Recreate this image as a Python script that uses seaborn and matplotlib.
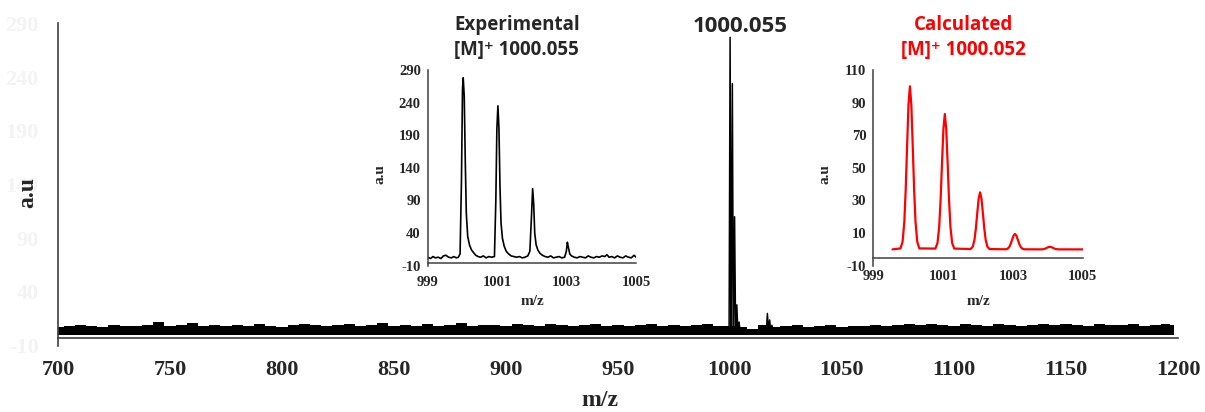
import numpy as np
import pandas as pd
import matplotlib
matplotlib.use("Agg")
import matplotlib.pyplot as plt
import seaborn as sns

# ---- main spectrum (700-1200) ----
# upper edge of the baseline noise band, every 5 m/z from 700 (last point 1198)
noise_mz = list(range(700, 1200, 5)) + [1198]
noise_top = [7, 8, 9, 8, 7, 9, 8, 8, 9, 12, 8, 9, 11, 8, 9, 8, 9, 8, 10, 8,
             7, 9, 10, 9, 8, 9, 10, 8, 9, 11, 8, 9, 8, 10, 8, 9, 11, 8, 9, 9,
             8, 10, 9, 8, 10, 9, 8, 9, 10, 8, 9, 8, 9, 10, 8, 9, 8, 9, 10, 8,
             8, 7, 6, 9, 7, 8, 9, 7, 8, 9, 7, 8, 8, 9, 8, 9, 10, 9, 10, 9,
             8, 10, 9, 8, 10, 9, 8, 9, 10, 9, 10, 9, 8, 10, 9, 9, 10, 8, 9, 10, 9]
noise_floor = 0

peak_mz = [1000.05, 1001.05, 1002.05, 1003.05, 1004.05, 1016.7, 1017.7, 1018.7]
peak_ai = [277, 234, 110, 28, 12, 20, 14, 9]
main_label = "1000.055"

# ---- experimental isotope pattern (inset, left) ----
exp_mz = [999.00, 999.08, 999.15, 999.22, 999.30, 999.38, 999.45, 999.52, 999.60, 999.68,
          999.75, 999.82, 999.88, 999.93, 999.97, 1000.00, 1000.02, 1000.05, 1000.08, 1000.11,
          1000.15, 1000.20, 1000.26, 1000.32, 1000.38, 1000.45, 1000.52, 1000.60, 1000.68, 1000.76,
          1000.84, 1000.92, 1000.96, 1000.99, 1001.02, 1001.05, 1001.08, 1001.11, 1001.15, 1001.20,
          1001.26, 1001.33, 1001.40, 1001.48, 1001.56, 1001.64, 1001.72, 1001.80, 1001.88, 1001.94,
          1001.99, 1002.02, 1002.05, 1002.08, 1002.12, 1002.17, 1002.23, 1002.30, 1002.38, 1002.46,
          1002.54, 1002.62, 1002.70, 1002.78, 1002.86, 1002.94, 1002.99, 1003.02, 1003.05, 1003.09,
          1003.14, 1003.22, 1003.30, 1003.38, 1003.46, 1003.54, 1003.62, 1003.70, 1003.78, 1003.86,
          1003.94, 1004.02, 1004.10, 1004.16, 1004.22, 1004.30, 1004.38, 1004.46, 1004.54, 1004.62,
          1004.70, 1004.78, 1004.86, 1004.94, 1005.00]
exp_ai = [3, 1, 4, 2, 3, 1, 5, 6, 3, 2,
          4, 2, 3, 8, 120, 260, 278, 250, 150, 70,
          35, 22, 14, 10, 6, 4, 3, 5, 2, 4,
          3, 4, 90, 200, 235, 200, 110, 55, 32, 20,
          12, 8, 5, 4, 3, 4, 2, 3, 5, 12,
          70, 108, 85, 40, 22, 14, 9, 6, 4, 3,
          5, 2, 3, 4, 2, 3, 12, 26, 18, 8,
          5, 3, 2, 4, 3, 2, 5, 3, 2, 4,
          3, 5, 4, 7, 3, 4, 2, 5, 3, 2,
          5, 3, 2, 6, 3]

# ---- calculated isotope pattern (inset, right) ----
calc_centers = [1000.05, 1001.05, 1002.06, 1003.06, 1004.06]
calc_heights = [100, 83, 35, 9.5, 1.6]
# profile of one isotope peak read from the first peak (offset, fraction of height)
shape_dx = [-0.27, -0.21, -0.16, -0.12, -0.08, -0.04, 0, 0.04, 0.08, 0.12, 0.16, 0.21, 0.27]
shape_rel = [0.006, 0.047, 0.17, 0.37, 0.64, 0.89, 1.0, 0.89, 0.64, 0.37, 0.17, 0.047, 0.006]
calc_start, calc_end = 999.55, 1005.0

# build tables for the library
spike_x, spike_y = [], []
for mz, h in zip(peak_mz, peak_ai):
    spike_x += [mz - 0.45, mz, mz + 0.45]
    spike_y += [4, h, 4]
spikes = pd.DataFrame({"mz": spike_x, "ai": spike_y})

exp_df = pd.DataFrame({"mz": exp_mz, "ai": exp_ai})

cx, cy = [calc_start], [0]
for c, h in zip(calc_centers, calc_heights):
    cx += [c + d for d in shape_dx]
    cy += [h * r for r in shape_rel]
cx.append(calc_end)
cy.append(0)
calc_df = pd.DataFrame({"mz": cx, "ai": cy})

sns.set_theme(style="white")
plt.rcParams["font.family"] = ["Liberation Serif", "DejaVu Serif"]
plt.rcParams["font.weight"] = "bold"
plt.rcParams["axes.unicode_minus"] = False

SERIF = ["Liberation Serif", "DejaVu Serif"]
SANS = ["Open Sans", "DejaVu Sans"]
SPINE = "#404040"

fig = plt.figure(figsize=(12.05, 4.12), dpi=100)

# ---- main axes ----
ax = fig.add_axes([0.0481, 0.1609, 0.9295, 0.7825])
ax.fill_between(noise_mz, noise_floor, noise_top, step="mid", color="black", lw=0)
sns.lineplot(data=spikes, x="mz", y="ai", ax=ax, color="black", lw=1.1,
             sort=False, estimator=None)
ax.set_xlim(700, 1200)
ax.set_ylim(-10, 290)
ax.set_xticks(range(700, 1201, 50))
ax.set_yticks(range(-10, 291, 50))
for s in ["top", "right"]:
    ax.spines[s].set_visible(False)
ax.spines["bottom"].set_position(("data", -3))
for s in ["left", "bottom"]:
    ax.spines[s].set_color(SPINE)
    ax.spines[s].set_linewidth(1.2)
ax.tick_params(axis="x", direction="in", length=5, width=1.2, color=SPINE,
               labelsize=16, pad=16)
ax.tick_params(axis="y", direction="in", length=6, width=1.2, color=SPINE,
               labelsize=16, pad=14, labelcolor="#f3f3f3")
for lab in ax.get_xticklabels() + ax.get_yticklabels():
    lab.set_fontweight("bold")
ax.set_xlabel("")
ax.set_ylabel("")
fig.text(600 / 1205, 1 - 401 / 412, "m/z", ha="center", va="center",
         fontsize=17, fontweight="bold", family=SERIF)
fig.text(28 / 1205, 1 - 193 / 412, "a.u", ha="center", va="center", rotation=90,
         fontsize=17, fontweight="bold", family=SERIF)
fig.text(740 / 1205, 1 - 26 / 412, main_label, ha="center", va="center",
         fontsize=16, fontweight="bold", family=SANS)


def style_inset(a, ylim, yticks, xaxis_at):
    a.set_xlim(999, 1005)
    a.set_ylim(*ylim)
    a.set_xticks([999, 1001, 1003, 1005])
    a.set_yticks(yticks)
    a.patch.set_alpha(0)
    for s in ["top", "right"]:
        a.spines[s].set_visible(False)
    a.spines["bottom"].set_position(("data", xaxis_at))
    for s in ["left", "bottom"]:
        a.spines[s].set_color(SPINE)
        a.spines[s].set_linewidth(1.1)
    a.tick_params(axis="x", direction="in", length=4, width=1.1, color=SPINE,
                  labelsize=10.5, pad=9)
    a.tick_params(axis="y", direction="inout", length=6, width=1.1, color=SPINE,
                  labelsize=10.5, pad=2)
    for lab in a.get_xticklabels() + a.get_yticklabels():
        lab.set_fontweight("bold")
    a.set_xlabel("m/z", fontsize=11, fontweight="bold", family=SERIF)
    a.set_ylabel("a.u", fontsize=11, fontweight="bold", family=SERIF)
    a.xaxis.set_label_coords(0.5, -0.15)
    a.yaxis.set_label_coords(-0.2, 0.47)


# ---- experimental inset ----
ax1 = fig.add_axes([0.355, 0.3551, 0.1729, 0.4751])
sns.lineplot(data=exp_df, x="mz", y="ai", ax=ax1, color="black", lw=1.2,
             sort=False, estimator=None)
style_inset(ax1, (-10, 290), range(-10, 291, 50), -6)
fig.text(517 / 1205, 1 - 25 / 412, "Experimental", ha="center", va="center",
         fontsize=13.5, fontweight="bold", family=SANS)
fig.text(516 / 1205, 1 - 50 / 412, "[M]\u207a 1000.055", ha="center", va="center",
         fontsize=13.5, fontweight="bold", family=SANS)

# ---- calculated inset ----
ax2 = fig.add_axes([0.7247, 0.3551, 0.1738, 0.4751])
sns.lineplot(data=calc_df, x="mz", y="ai", ax=ax2, color="#ff0000", lw=1.6,
             sort=False, estimator=None)
style_inset(ax2, (-10, 110), range(-10, 111, 20), -5)
fig.text(963 / 1205, 1 - 25 / 412, "Calculated", ha="center", va="center",
         fontsize=13.5, fontweight="bold", family=SANS, color="#ff0000")
fig.text(963 / 1205, 1 - 50 / 412, "[M]\u207a 1000.052", ha="center", va="center",
         fontsize=13.5, fontweight="bold", family=SANS, color="#ff0000")

fig.savefig("out.png", dpi=100)
